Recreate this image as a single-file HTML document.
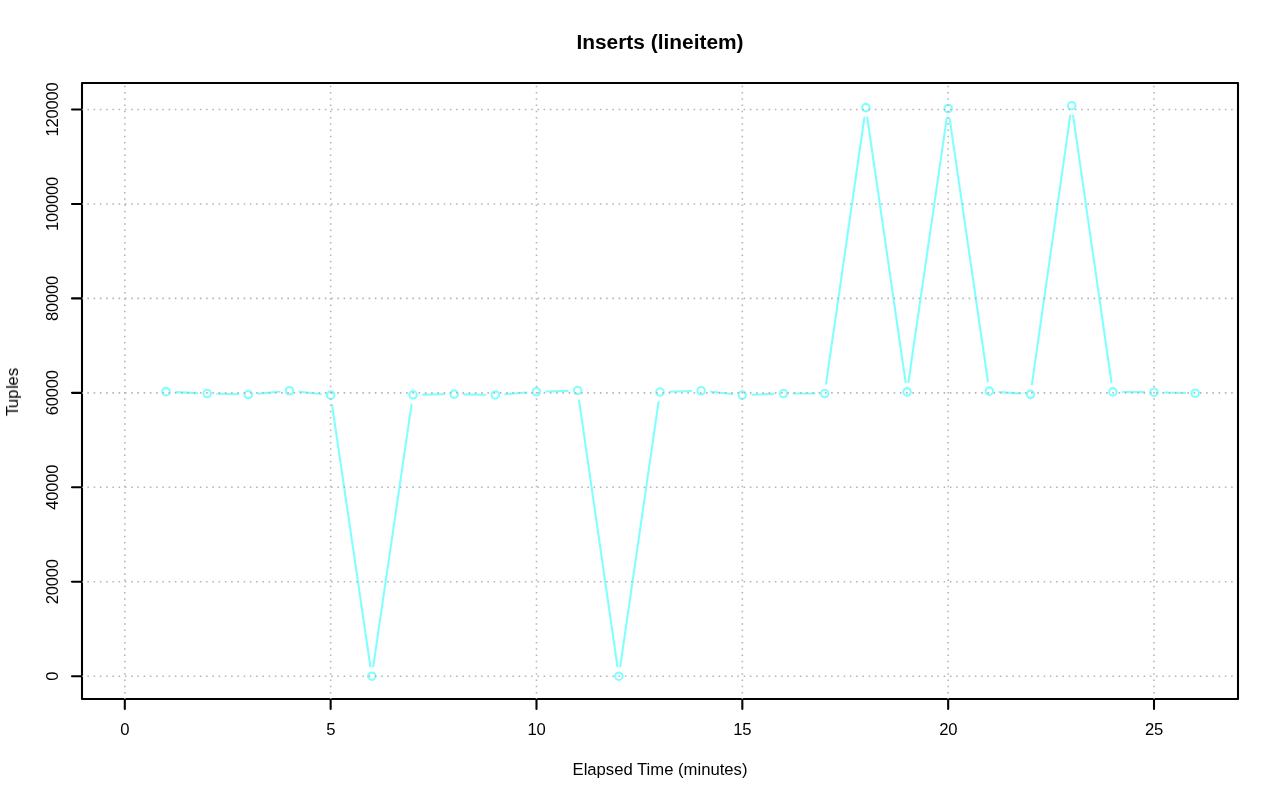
<!DOCTYPE html>
<html><head><meta charset="utf-8"><title>Inserts (lineitem)</title>
<style>
html,body{margin:0;padding:0;background:#fff;width:1280px;height:801px;overflow:hidden}
svg{display:block}
text{font-family:"Liberation Sans",sans-serif}
</style></head><body>
<svg width="1280" height="801" viewBox="0 0 1280 801">
<rect width="1280" height="801" fill="#fff"/>
<g fill="none" stroke="#80FFFF" stroke-width="2.08" stroke-linecap="round">
<line x1="175.97" y1="392.11" x2="197.16" y2="393.09"/>
<line x1="217.14" y1="393.79" x2="238.32" y2="394.31"/>
<line x1="258.27" y1="393.63" x2="279.52" y2="391.67"/>
<line x1="299.43" y1="391.81" x2="320.71" y2="394.09"/>
<line x1="332.10" y1="405.04" x2="370.37" y2="666.31"/>
<line x1="373.27" y1="666.31" x2="411.54" y2="404.64"/>
<line x1="422.98" y1="394.60" x2="444.16" y2="394.30"/>
<line x1="464.15" y1="394.34" x2="485.32" y2="394.76"/>
<line x1="505.29" y1="394.18" x2="526.52" y2="392.52"/>
<line x1="546.49" y1="391.46" x2="567.66" y2="390.84"/>
<line x1="579.08" y1="400.45" x2="617.40" y2="666.30"/>
<line x1="620.26" y1="666.30" x2="658.56" y2="401.95"/>
<line x1="669.99" y1="391.73" x2="691.17" y2="391.07"/>
<line x1="711.11" y1="391.79" x2="732.38" y2="394.01"/>
<line x1="752.32" y1="394.69" x2="773.50" y2="393.91"/>
<line x1="793.50" y1="393.55" x2="814.67" y2="393.55"/>
<line x1="826.09" y1="383.65" x2="864.41" y2="117.50"/>
<line x1="867.27" y1="117.50" x2="905.57" y2="382.00"/>
<line x1="908.44" y1="382.00" x2="946.73" y2="118.40"/>
<line x1="949.61" y1="118.40" x2="987.90" y2="381.25"/>
<line x1="999.31" y1="391.92" x2="1020.54" y2="393.58"/>
<line x1="1031.92" y1="384.45" x2="1070.26" y2="115.60"/>
<line x1="1073.10" y1="115.60" x2="1111.42" y2="382.00"/>
<line x1="1122.84" y1="391.99" x2="1144.01" y2="392.16"/>
<line x1="1164.01" y1="392.49" x2="1185.18" y2="393.01"/>
<circle cx="165.98" cy="391.65" r="3.75"/>
<circle cx="207.15" cy="393.55" r="3.75"/>
<circle cx="248.31" cy="394.55" r="3.75"/>
<circle cx="289.48" cy="390.75" r="3.75"/>
<circle cx="330.65" cy="395.15" r="3.75"/>
<circle cx="371.82" cy="676.20" r="3.75"/>
<circle cx="412.99" cy="394.75" r="3.75"/>
<circle cx="454.15" cy="394.15" r="3.75"/>
<circle cx="495.32" cy="394.95" r="3.75"/>
<circle cx="536.49" cy="391.75" r="3.75"/>
<circle cx="577.66" cy="390.55" r="3.75"/>
<circle cx="618.83" cy="676.20" r="3.75"/>
<circle cx="659.99" cy="392.05" r="3.75"/>
<circle cx="701.16" cy="390.75" r="3.75"/>
<circle cx="742.33" cy="395.05" r="3.75"/>
<circle cx="783.50" cy="393.55" r="3.75"/>
<circle cx="824.67" cy="393.55" r="3.75"/>
<circle cx="865.83" cy="107.60" r="3.75"/>
<circle cx="907.00" cy="391.90" r="3.75"/>
<circle cx="948.17" cy="108.50" r="3.75"/>
<circle cx="989.34" cy="391.15" r="3.75"/>
<circle cx="1030.51" cy="394.35" r="3.75"/>
<circle cx="1071.67" cy="105.70" r="3.75"/>
<circle cx="1112.84" cy="391.90" r="3.75"/>
<circle cx="1154.01" cy="392.25" r="3.75"/>
<circle cx="1195.18" cy="393.25" r="3.75"/>
</g>
<rect x="82.0" y="83.0" width="1156.0" height="616.0" fill="none" stroke="#000" stroke-width="2.08" stroke-linejoin="round"/>
<g stroke="#000" stroke-width="2.08" stroke-linecap="round">
<line x1="124.81" y1="699.0" x2="124.81" y2="709.0"/>
<line x1="330.65" y1="699.0" x2="330.65" y2="709.0"/>
<line x1="536.49" y1="699.0" x2="536.49" y2="709.0"/>
<line x1="742.33" y1="699.0" x2="742.33" y2="709.0"/>
<line x1="948.17" y1="699.0" x2="948.17" y2="709.0"/>
<line x1="1154.01" y1="699.0" x2="1154.01" y2="709.0"/>
<line x1="82.0" y1="676.19" x2="72.0" y2="676.19"/>
<line x1="82.0" y1="581.74" x2="72.0" y2="581.74"/>
<line x1="82.0" y1="487.29" x2="72.0" y2="487.29"/>
<line x1="82.0" y1="392.85" x2="72.0" y2="392.85"/>
<line x1="82.0" y1="298.40" x2="72.0" y2="298.40"/>
<line x1="82.0" y1="203.95" x2="72.0" y2="203.95"/>
<line x1="82.0" y1="109.50" x2="72.0" y2="109.50"/>
</g>
<clipPath id="pr"><rect x="82.0" y="83.0" width="1156.0" height="616.0"/></clipPath>
<g stroke="#B4B4B4" stroke-width="1.5625" stroke-dasharray="1.5625 4.6875" fill="none" clip-path="url(#pr)">
<line x1="124.81" y1="699.78" x2="124.81" y2="84.0"/>
<line x1="330.65" y1="699.78" x2="330.65" y2="84.0"/>
<line x1="536.49" y1="699.78" x2="536.49" y2="84.0"/>
<line x1="742.33" y1="699.78" x2="742.33" y2="84.0"/>
<line x1="948.17" y1="699.78" x2="948.17" y2="84.0"/>
<line x1="1154.01" y1="699.78" x2="1154.01" y2="84.0"/>
<line x1="81.12" y1="676.19" x2="1237.0" y2="676.19"/>
<line x1="81.12" y1="581.74" x2="1237.0" y2="581.74"/>
<line x1="81.12" y1="487.29" x2="1237.0" y2="487.29"/>
<line x1="81.12" y1="392.85" x2="1237.0" y2="392.85"/>
<line x1="81.12" y1="298.40" x2="1237.0" y2="298.40"/>
<line x1="81.12" y1="203.95" x2="1237.0" y2="203.95"/>
<line x1="81.12" y1="109.50" x2="1237.0" y2="109.50"/>
</g>
<g font-family="Liberation Sans, sans-serif" font-size="16.67px" fill="#000" text-anchor="middle" opacity="0.999">
<text x="660" y="49.2" font-size="20.9px" font-weight="bold">Inserts (lineitem)</text>
<text x="660" y="775.4">Elapsed Time (minutes)</text>
<text transform="translate(18.0,391.6) rotate(-90)" text-anchor="start" x="-24.49 -16.55 -7.3 2.68 5.88 15.44">Tuples</text>
<text x="124.81" y="735.4" letter-spacing="-0.27">0</text>
<text x="330.65" y="735.4" letter-spacing="-0.27">5</text>
<text x="536.49" y="735.4" letter-spacing="-0.27">10</text>
<text x="742.33" y="735.4" letter-spacing="-0.27">15</text>
<text x="948.17" y="735.4" letter-spacing="-0.27">20</text>
<text x="1154.01" y="735.4" letter-spacing="-0.27">25</text>
<text transform="translate(58.3,676.19) rotate(-90)" letter-spacing="-0.27">0</text>
<text transform="translate(58.3,581.74) rotate(-90)" letter-spacing="-0.27">20000</text>
<text transform="translate(58.3,487.29) rotate(-90)" letter-spacing="-0.27">40000</text>
<text transform="translate(58.3,392.85) rotate(-90)" letter-spacing="-0.27">60000</text>
<text transform="translate(58.3,298.40) rotate(-90)" letter-spacing="-0.27">80000</text>
<text transform="translate(58.3,203.95) rotate(-90)" letter-spacing="-0.27">100000</text>
<text transform="translate(58.3,109.50) rotate(-90)" letter-spacing="-0.27">120000</text>
</g>
</svg>
</body></html>
